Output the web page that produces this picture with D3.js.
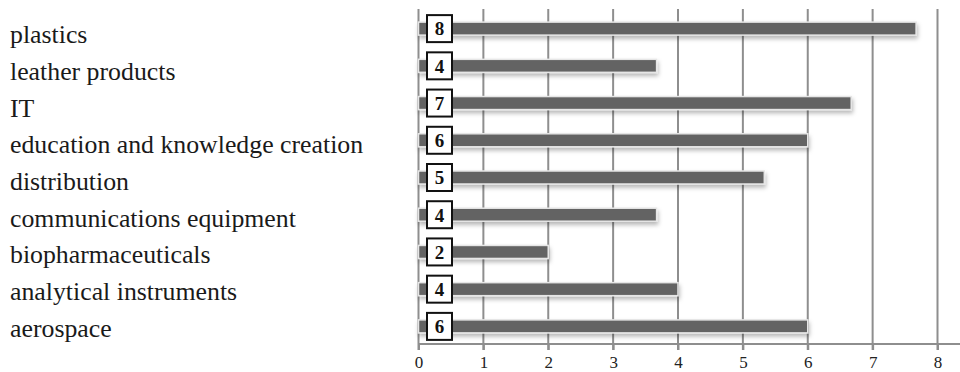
<!DOCTYPE html>
<html>
<head>
<meta charset="utf-8">
<script src="https://cdn.jsdelivr.net/npm/d3@7"></script>
<style>
  html, body { margin: 0; padding: 0; background: #fff; }
  svg { display: block; }
</style>
</head>
<body>
<svg id="chart" width="960" height="372"></svg>
<script>
// Sectors, listed top to bottom
const categories = [
  "plastics",
  "leather products",
  "IT",
  "education and knowledge creation",
  "distribution",
  "communications equipment",
  "biopharmaceuticals",
  "analytical instruments",
  "aerospace"
];
// Score per sector (the boxed label shows it rounded)
const values = [7.67, 3.67, 6.67, 6, 5.33, 3.67, 2, 4, 6];
// Axis ticks
const ticks = [0, 1, 2, 3, 4, 5, 6, 7, 8];

const svg = d3.select("#chart");
const W = 960, H = 372;
const serif = "'Liberation Serif', 'Times New Roman', serif";

const x = d3.scaleLinear().domain([0, 8]).range([418.5, 937.5]);
const y = d3.scaleBand().domain(categories).range([10, 345]);
const yLabel = d3.scaleBand().domain(categories).range([16, 346]);
const axisY = 344;

// Soft shadow under each bar
const defs = svg.append("defs");
const f = defs.append("filter").attr("id", "shadow")
  .attr("x", "-5%").attr("y", "-50%").attr("width", "110%").attr("height", "250%");
f.append("feDropShadow").attr("dx", 1).attr("dy", 3).attr("stdDeviation", 2)
  .attr("flood-color", "#000").attr("flood-opacity", 0.28);

// Vertical gridlines
svg.append("g").selectAll("line").data(ticks).join("line")
  .attr("x1", d => x(d)).attr("x2", d => x(d))
  .attr("y1", 9).attr("y2", axisY + 6)
  .attr("stroke", "#8e8e8e").attr("stroke-width", 2);

// Bottom axis
const axis = d3.axisBottom(x).tickValues(ticks).tickSize(6).tickPadding(6)
  .tickFormat(d3.format("d"));
const gAxis = svg.append("g").attr("transform", `translate(0,${axisY})`).call(axis);
gAxis.select(".domain").remove();
gAxis.selectAll(".tick line").attr("stroke", "#8e8e8e").attr("stroke-width", 2);
gAxis.selectAll(".tick text")
  .attr("font-family", serif).attr("font-size", 17).attr("fill", "#222");
gAxis.append("line")
  .attr("x1", x(0)).attr("x2", W).attr("y1", 0).attr("y2", 0)
  .attr("stroke", "#8e8e8e").attr("stroke-width", 2);

// Bars
const bh = 13;
svg.append("g").selectAll("rect").data(categories).join("rect")
  .attr("x", x(0))
  .attr("y", d => y(d) + y.bandwidth() / 2 - bh / 2)
  .attr("width", (d, i) => x(values[i]) - x(0))
  .attr("height", bh)
  .attr("fill", "#636363")
  .attr("stroke", "#e6e6e6").attr("stroke-width", 1.5)
  .attr("filter", "url(#shadow)");

// Boxed value labels
const boxes = svg.append("g").selectAll("g").data(categories).join("g")
  .attr("transform", d => `translate(${x(0) + 21},${y(d) + y.bandwidth() / 2})`);
boxes.append("rect")
  .attr("x", -12.5).attr("y", -13.5).attr("width", 25).attr("height", 27)
  .attr("fill", "#fff").attr("stroke", "#111").attr("stroke-width", 2);
boxes.append("text")
  .attr("text-anchor", "middle").attr("dy", "0.36em")
  .attr("font-family", serif).attr("font-weight", "bold").attr("font-size", 19)
  .attr("fill", "#111")
  .text((d, i) => d3.format(".0f")(values[i]));

// Category names in the left column
svg.append("g").selectAll("text").data(categories).join("text")
  .attr("x", 10)
  .attr("y", d => yLabel(d) + yLabel.bandwidth() / 2)
  .attr("dy", "0.35em")
  .attr("font-family", serif).attr("font-size", 25.8).attr("fill", "#1a1a1a")
  .text(d => d);
</script>
</body>
</html>
